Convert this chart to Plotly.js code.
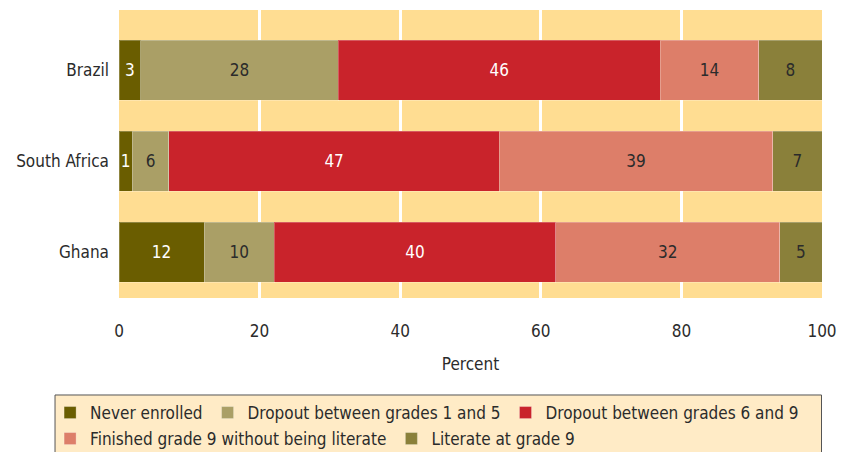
<!DOCTYPE html>
<html>
<head>
<meta charset="utf-8">
<script src="https://cdn.plot.ly/plotly-3.0.1.min.js"></script>
<style>
  body { margin: 0; background: #fff; }
  #chart { width: 846px; height: 452px; }
</style>
</head>
<body>
<div id="chart"></div>
<script>
// Categories, bottom to top as drawn
const countries = ['Ghana', 'South Africa', 'Brazil'];

// Segment widths (percent) as measured on the bars
const neverEnrolled = [12.1, 1.9, 3.1];
const dropout1to5 = [10.0, 5.2, 28.1];
const dropout6to9 = [40.0, 47.0, 45.8];
const finishedIlliterate = [31.9, 38.9, 14.0];
const literate = [6.0, 7.0, 9.0];

// Printed labels (rounded values shown in the bars)
const neverEnrolledLabels = ['12', '1', '3'];
const dropout1to5Labels = ['10', '6', '28'];
const dropout6to9Labels = ['40', '47', '46'];
const finishedIlliterateLabels = ['32', '39', '14'];
const literateLabels = ['5', '7', '8'];

const seriesNames = [
    'Never enrolled',
    'Dropout between grades 1 and 5',
    'Dropout between grades 6 and 9',
    'Finished grade 9 without being literate',
    'Literate at grade 9'
];
const seriesValues = [neverEnrolled, dropout1to5, dropout6to9, finishedIlliterate, literate];
const seriesLabels = [neverEnrolledLabels, dropout1to5Labels, dropout6to9Labels,
    finishedIlliterateLabels, literateLabels];
const seriesColors = ['#6a5d00', '#aa9f66', '#c9232b', '#dd7e69', '#8a803a'];
const labelColors = ['#ffffff', '#2b2b2b', '#ffffff', '#2b2b2b', '#2b2b2b'];
// first row of the legend holds three entries, second row two
const legendRow = ['legend', 'legend', 'legend', 'legend2', 'legend2'];

const font = 'DejaVu Sans Condensed, DejaVu Sans, sans-serif';
const ink = '#2b2b2b';

const traces = seriesNames.map((name, i) => ({
    type: 'bar',
    orientation: 'h',
    name: name,
    y: countries,
    x: seriesValues[i],
    text: seriesLabels[i],
    textposition: 'inside',
    insidetextanchor: 'middle',
    textangle: 0,
    constraintext: 'none',
    textfont: { family: font, size: 17, color: labelColors[i] },
    marker: {
        color: seriesColors[i],
        line: { color: 'rgba(255,255,255,0.25)', width: 1 }
    },
    legend: legendRow[i],
    hoverinfo: 'x+name'
}));

const legendBase = {
    orientation: 'h',
    x: -0.098,
    xanchor: 'left',
    yanchor: 'top',
    bgcolor: 'rgba(0,0,0,0)',
    borderwidth: 0,
    traceorder: 'normal',
    font: { family: font, size: 17, color: ink },
    itemwidth: 30
};

const layout = {
    width: 846,
    height: 452,
    barmode: 'stack',
    bargap: 0.34,
    paper_bgcolor: '#ffffff',
    plot_bgcolor: '#ffdd92',
    margin: { t: 10, r: 24, b: 154, l: 119, autoexpand: false },
    font: { family: font, size: 17, color: ink },
    uniformtext: { minsize: 17, mode: 'show' },
    xaxis: {
        range: [0, 100],
        tickvals: [0, 20, 40, 60, 80, 100],
        showgrid: true,
        gridcolor: '#ffffff',
        gridwidth: 3,
        zeroline: false,
        showline: false,
        ticks: '',
        ticklabelstandoff: 21,
        tickfont: { family: font, size: 17, color: ink },
        title: { text: 'Percent', font: { family: font, size: 17, color: ink }, standoff: 18 },
        fixedrange: true
    },
    yaxis: {
        range: [-0.505, 2.66],
        showgrid: false,
        zeroline: false,
        ticks: '',
        ticklabelstandoff: 9,
        tickfont: { family: font, size: 17, color: ink },
        fixedrange: true
    },
    legend: Object.assign({}, legendBase, { y: -0.3368 }),
    legend2: Object.assign({}, legendBase, { y: -0.4271 }),
    shapes: [{
        type: 'rect',
        xref: 'paper',
        yref: 'paper',
        x0: -0.091,
        x1: 0.9993,
        y0: -0.3368,
        y1: -0.58,
        fillcolor: '#ffebc6',
        line: { color: '#555555', width: 1 },
        layer: 'below'
    }],
    showlegend: true
};

Plotly.newPlot('chart', traces, layout, { displayModeBar: false, responsive: false });
</script>
</body>
</html>
